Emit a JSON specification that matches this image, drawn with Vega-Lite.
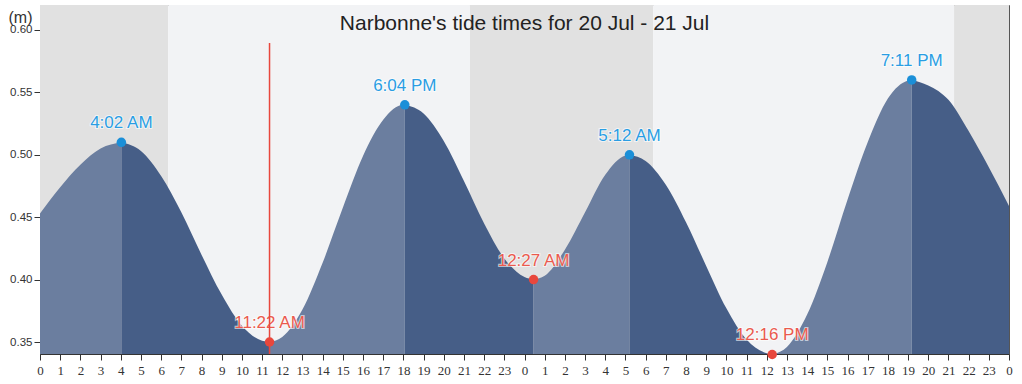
{
  "$schema": "https://vega.github.io/schema/vega-lite/v6.json",
  "width": 969,
  "height": 349,
  "autosize": {"type": "none"},
  "padding": {"left": 40, "top": 5, "right": 13, "bottom": 30},
  "background": "white",
  "title": {"text": "Narbonne's tide times for 20 Jul - 21 Jul", "fontSize": 21, "fontWeight": "normal", "color": "#222", "anchor": "middle", "frame": "group", "offset": -26, "dy": 24, "baseline": "bottom", "font": "Liberation Sans"},
  "config": {
    "view": {"stroke": "#555", "strokeWidth": 1},
    "font": "Liberation Sans",
    "axis": {"grid": false, "domainColor": "#333", "tickColor": "#333", "labelColor": "#333", "labelFont": "Liberation Sans", "labelOverlap": false},
    "axisQuantitative": {"labelOverlap": false},
    "axisX": {"labelFontSize": 13, "labelFont": "Liberation Sans Narrow", "tickSize": 6, "labelPadding": 3, "labelFlush": false, "labelOverlap": false},
    "axisY": {"labelFontSize": 11.5, "tickSize": 6, "labelPadding": 2, "domain": false, "titleAngle": 0, "titleFontSize": 16, "titleFontWeight": "normal", "titleAlign": "center", "titleBaseline": "middle", "titleX": -20, "titleY": 12, "titleColor": "#333", "titleFont": "Liberation Sans"}
  },
  "datasets": {
    "bands": [
      {"s": 0, "e": 6.35, "k": "night"},
      {"s": 6.35, "e": 21.3, "k": "day"},
      {"s": 21.3, "e": 30.37, "k": "night"},
      {"s": 30.37, "e": 45.28, "k": "day"},
      {"s": 45.28, "e": 48, "k": "night"}
    ],
    "tide": [
      {"seg": 1, "dir": "rise", "t": 0, "h": 0.453},
      {"seg": 1, "dir": "rise", "t": 1, "h": 0.474},
      {"seg": 1, "dir": "rise", "t": 2, "h": 0.492},
      {"seg": 1, "dir": "rise", "t": 3, "h": 0.505},
      {"seg": 1, "dir": "rise", "t": 4.03, "h": 0.51},
      {"seg": 2, "dir": "fall", "t": 4.03, "h": 0.51},
      {"seg": 2, "dir": "fall", "t": 5, "h": 0.503},
      {"seg": 2, "dir": "fall", "t": 6, "h": 0.483},
      {"seg": 2, "dir": "fall", "t": 7, "h": 0.454},
      {"seg": 2, "dir": "fall", "t": 8, "h": 0.42},
      {"seg": 2, "dir": "fall", "t": 9, "h": 0.388},
      {"seg": 2, "dir": "fall", "t": 10, "h": 0.363},
      {"seg": 2, "dir": "fall", "t": 11, "h": 0.351},
      {"seg": 2, "dir": "fall", "t": 11.37, "h": 0.35},
      {"seg": 3, "dir": "rise", "t": 11.37, "h": 0.35},
      {"seg": 3, "dir": "rise", "t": 12, "h": 0.354},
      {"seg": 3, "dir": "rise", "t": 13, "h": 0.376},
      {"seg": 3, "dir": "rise", "t": 14, "h": 0.4135},
      {"seg": 3, "dir": "rise", "t": 15, "h": 0.4575},
      {"seg": 3, "dir": "rise", "t": 16, "h": 0.499},
      {"seg": 3, "dir": "rise", "t": 17, "h": 0.528},
      {"seg": 3, "dir": "rise", "t": 18, "h": 0.54},
      {"seg": 3, "dir": "rise", "t": 18.07, "h": 0.54},
      {"seg": 4, "dir": "fall", "t": 18.07, "h": 0.54},
      {"seg": 4, "dir": "fall", "t": 19, "h": 0.533},
      {"seg": 4, "dir": "fall", "t": 20, "h": 0.511},
      {"seg": 4, "dir": "fall", "t": 21, "h": 0.479},
      {"seg": 4, "dir": "fall", "t": 22, "h": 0.445},
      {"seg": 4, "dir": "fall", "t": 23, "h": 0.417},
      {"seg": 4, "dir": "fall", "t": 24, "h": 0.402},
      {"seg": 4, "dir": "fall", "t": 24.45, "h": 0.40},
      {"seg": 5, "dir": "rise", "t": 24.45, "h": 0.40},
      {"seg": 5, "dir": "rise", "t": 25, "h": 0.403},
      {"seg": 5, "dir": "rise", "t": 26, "h": 0.424},
      {"seg": 5, "dir": "rise", "t": 27, "h": 0.454},
      {"seg": 5, "dir": "rise", "t": 28, "h": 0.484},
      {"seg": 5, "dir": "rise", "t": 29, "h": 0.4995},
      {"seg": 5, "dir": "rise", "t": 29.2, "h": 0.50},
      {"seg": 6, "dir": "fall", "t": 29.2, "h": 0.50},
      {"seg": 6, "dir": "fall", "t": 30, "h": 0.495},
      {"seg": 6, "dir": "fall", "t": 31, "h": 0.476},
      {"seg": 6, "dir": "fall", "t": 32, "h": 0.446},
      {"seg": 6, "dir": "fall", "t": 33, "h": 0.411},
      {"seg": 6, "dir": "fall", "t": 34, "h": 0.377},
      {"seg": 6, "dir": "fall", "t": 35, "h": 0.352},
      {"seg": 6, "dir": "fall", "t": 36, "h": 0.341},
      {"seg": 6, "dir": "fall", "t": 36.27, "h": 0.34},
      {"seg": 7, "dir": "rise", "t": 36.27, "h": 0.34},
      {"seg": 7, "dir": "rise", "t": 37, "h": 0.346},
      {"seg": 7, "dir": "rise", "t": 38, "h": 0.372},
      {"seg": 7, "dir": "rise", "t": 39, "h": 0.414},
      {"seg": 7, "dir": "rise", "t": 40, "h": 0.464},
      {"seg": 7, "dir": "rise", "t": 41, "h": 0.51},
      {"seg": 7, "dir": "rise", "t": 42, "h": 0.545},
      {"seg": 7, "dir": "rise", "t": 43, "h": 0.5595},
      {"seg": 7, "dir": "rise", "t": 43.18, "h": 0.56},
      {"seg": 8, "dir": "fall", "t": 43.18, "h": 0.56},
      {"seg": 8, "dir": "fall", "t": 44, "h": 0.5555},
      {"seg": 8, "dir": "fall", "t": 45, "h": 0.544},
      {"seg": 8, "dir": "fall", "t": 46, "h": 0.519},
      {"seg": 8, "dir": "fall", "t": 47, "h": 0.49},
      {"seg": 8, "dir": "fall", "t": 48, "h": 0.459}
    ],
    "extremes": [
      {"t": 4.03, "h": 0.51, "type": "high", "label": "4:02 AM"},
      {"t": 11.37, "h": 0.35, "type": "low", "label": "11:22 AM"},
      {"t": 18.07, "h": 0.54, "type": "high", "label": "6:04 PM"},
      {"t": 24.45, "h": 0.40, "type": "low", "label": "12:27 AM"},
      {"t": 29.2, "h": 0.50, "type": "high", "label": "5:12 AM"},
      {"t": 36.27, "h": 0.34, "type": "low", "label": "12:16 PM"},
      {"t": 43.18, "h": 0.56, "type": "high", "label": "7:11 PM"}
    ],
    "now": [
      {"t": 11.37, "top": 0.5896, "bot": 0.3404}
    ]
  },
  "resolve": {"scale": {"color": "independent"}},
  "layer": [
    {
      "data": {"name": "bands"},
      "mark": {"type": "rect"},
      "encoding": {
        "x": {"field": "s", "type": "quantitative", "scale": {"domain": [0, 48], "nice": false, "zero": false},
              "axis": {"values": [0,1,2,3,4,5,6,7,8,9,10,11,12,13,14,15,16,17,18,19,20,21,22,23,24,25,26,27,28,29,30,31,32,33,34,35,36,37,38,39,40,41,42,43,44,45,46,47,48], "labelExpr": "datum.value % 24", "labelOverlap": false, "labelSeparation": 0, "labelFontSize": 13, "labelFont": "Liberation Sans Narrow", "labelPadding": 4}, "title": null},
        "x2": {"field": "e"},
        "color": {"field": "k", "type": "nominal", "scale": {"domain": ["night", "day"], "range": ["#e1e1e1", "#f2f3f5"]}, "legend": null}
      }
    },
    {
      "data": {"name": "tide"},
      "mark": {"type": "area", "interpolate": "monotone", "clip": true},
      "encoding": {
        "x": {"field": "t", "type": "quantitative", "scale": {"domain": [0, 48], "nice": false, "zero": false},
              "axis": {"values": [0,1,2,3,4,5,6,7,8,9,10,11,12,13,14,15,16,17,18,19,20,21,22,23,24,25,26,27,28,29,30,31,32,33,34,35,36,37,38,39,40,41,42,43,44,45,46,47,48], "labelExpr": "datum.value % 24", "labelOverlap": false, "labelSeparation": 0, "labelFontSize": 13, "labelFont": "Liberation Sans Narrow", "labelPadding": 4}, "title": null},
        "y": {"field": "h", "type": "quantitative", "stack": null, "scale": {"domain": [0.3404, 0.62], "nice": false, "zero": false},
              "axis": {"values": [0.35, 0.4, 0.45, 0.5, 0.55, 0.6], "format": ".2f"}, "title": "(m)"},
        "detail": {"field": "seg"},
        "color": {"field": "dir", "type": "nominal", "scale": {"domain": ["rise", "fall"], "range": ["#6b7e9f", "#465e87"]}, "legend": null}
      }
    },
    {
      "data": {"name": "extremes"},
      "mark": {"type": "circle", "size": 90, "opacity": 1},
      "encoding": {
        "x": {"field": "t", "type": "quantitative", "title": null,
              "axis": {"values": [0,1,2,3,4,5,6,7,8,9,10,11,12,13,14,15,16,17,18,19,20,21,22,23,24,25,26,27,28,29,30,31,32,33,34,35,36,37,38,39,40,41,42,43,44,45,46,47,48], "labelExpr": "datum.value % 24", "labelOverlap": false, "labelSeparation": 0, "labelFontSize": 13, "labelFont": "Liberation Sans Narrow", "labelPadding": 4}},
        "y": {"field": "h", "type": "quantitative", "title": "(m)"},
        "color": {"field": "type", "type": "nominal", "scale": {"domain": ["high", "low"], "range": ["#1b8fd8", "#e8473c"]}, "legend": null}
      }
    },
    {
      "data": {"name": "extremes"},
      "mark": {"type": "text", "fontSize": 17, "dy": -14, "baseline": "alphabetic", "stroke": "white", "strokeWidth": 2, "strokeOpacity": 0.6, "font": "Liberation Sans"},
      "encoding": {
        "x": {"field": "t", "type": "quantitative", "title": null,
              "axis": {"values": [0,1,2,3,4,5,6,7,8,9,10,11,12,13,14,15,16,17,18,19,20,21,22,23,24,25,26,27,28,29,30,31,32,33,34,35,36,37,38,39,40,41,42,43,44,45,46,47,48], "labelExpr": "datum.value % 24", "labelOverlap": false, "labelSeparation": 0, "labelFontSize": 13, "labelFont": "Liberation Sans Narrow", "labelPadding": 4}},
        "y": {"field": "h", "type": "quantitative", "title": "(m)"},
        "text": {"field": "label"},
        "color": {"value": "white"}
      }
    },
    {
      "data": {"name": "extremes"},
      "mark": {"type": "text", "fontSize": 17, "dy": -14, "baseline": "alphabetic", "font": "Liberation Sans"},
      "encoding": {
        "x": {"field": "t", "type": "quantitative", "title": null,
              "axis": {"values": [0,1,2,3,4,5,6,7,8,9,10,11,12,13,14,15,16,17,18,19,20,21,22,23,24,25,26,27,28,29,30,31,32,33,34,35,36,37,38,39,40,41,42,43,44,45,46,47,48], "labelExpr": "datum.value % 24", "labelOverlap": false, "labelSeparation": 0, "labelFontSize": 13, "labelFont": "Liberation Sans Narrow", "labelPadding": 4}},
        "y": {"field": "h", "type": "quantitative", "title": "(m)"},
        "text": {"field": "label"},
        "color": {"field": "type", "type": "nominal", "scale": {"domain": ["high", "low"], "range": ["#2a9de3", "#ea5a4e"]}, "legend": null}
      }
    },
    {
      "data": {"name": "now"},
      "mark": {"type": "rule", "color": "#e8473c", "strokeWidth": 1.5},
      "encoding": {
        "x": {"field": "t", "type": "quantitative", "title": null,
              "axis": {"values": [0,1,2,3,4,5,6,7,8,9,10,11,12,13,14,15,16,17,18,19,20,21,22,23,24,25,26,27,28,29,30,31,32,33,34,35,36,37,38,39,40,41,42,43,44,45,46,47,48], "labelExpr": "datum.value % 24", "labelOverlap": false, "labelSeparation": 0, "labelFontSize": 13, "labelFont": "Liberation Sans Narrow", "labelPadding": 4}},
        "y": {"field": "top", "type": "quantitative", "title": "(m)"},
        "y2": {"field": "bot"}
      }
    }
  ]
}
